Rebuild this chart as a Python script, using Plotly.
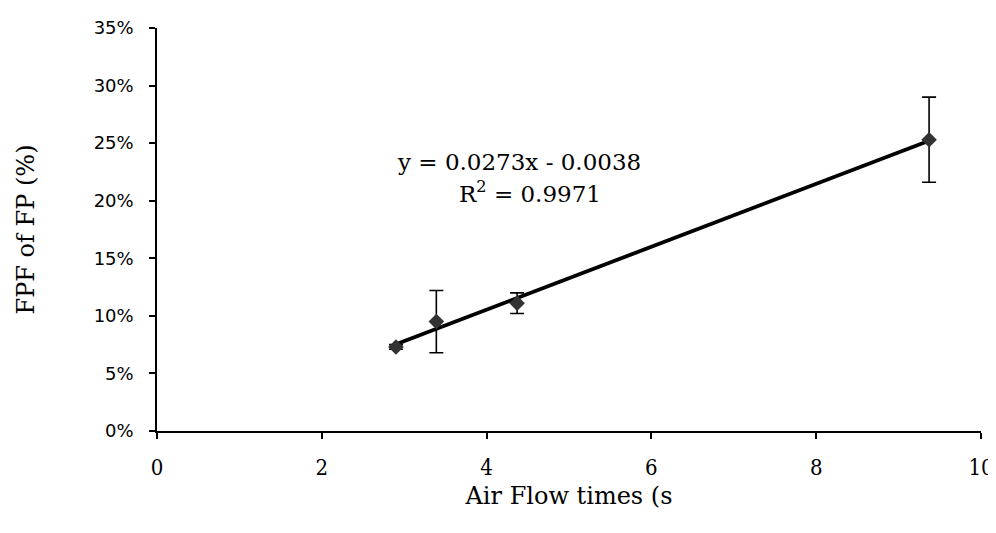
import plotly.graph_objects as go

# measured points (air flow time in s, fine particle fraction)
flow_time = [2.90, 3.39, 4.37, 9.37]
fpf = [0.073, 0.095, 0.111, 0.253]
fpf_err = [0.002, 0.027, 0.009, 0.037]

# linear trendline end points, as drawn
trend_x = [2.90, 9.37]
trend_y = [0.0754, 0.2520]

eq_text = "y = 0.0273x - 0.0038"
r2_text = "R<sup>2</sup> = 0.9971"

serif = "DejaVu Serif"

fig = go.Figure()
fig.add_trace(go.Scatter(
    x=trend_x, y=trend_y, mode="lines",
    line=dict(color="black", width=3.8), showlegend=False,
))
fig.add_trace(go.Scatter(
    x=flow_time, y=fpf, mode="markers",
    marker=dict(symbol="diamond", size=12, color="#333333"),
    error_y=dict(type="data", array=fpf_err, visible=True,
                 color="black", thickness=1.6, width=7),
    showlegend=False,
))

fig.add_annotation(x=4.39, y=0.2335, xref="x", yref="y", text=eq_text,
                   showarrow=False, xanchor="center", yanchor="middle",
                   font=dict(family=serif, size=23, color="black"))
fig.add_annotation(x=4.53, y=0.2075, xref="x", yref="y", text=r2_text,
                   showarrow=False, xanchor="center", yanchor="middle",
                   font=dict(family=serif, size=23, color="black"))

fig.update_xaxes(
    range=[0, 10], dtick=2, showgrid=False, zeroline=False,
    showline=True, linecolor="black", linewidth=1.5, automargin=False,
    ticks="outside", ticklen=6, tickcolor="black", tickwidth=1.5,
    ticklabelstandoff=10, ticklabeloverflow="allow",
    tickfont=dict(family="DejaVu Serif Condensed, DejaVu Serif", size=22,
                  color="black"),
    title=dict(text="Air Flow times (s", standoff=8,
               font=dict(family=serif, size=24, color="black")),
)
fig.update_yaxes(
    range=[0, 0.35], dtick=0.05, tickformat=".0%", showgrid=False,
    zeroline=False, showline=True, linecolor="black", linewidth=1.5,
    automargin=False,
    ticks="outside", ticklen=6, tickcolor="black", tickwidth=1.5,
    ticklabelstandoff=12,
    tickfont=dict(family="DejaVu Sans", size=18, color="black"),
    title=dict(text="FPF of FP (%)", standoff=52,
               font=dict(family=serif, size=24, color="black")),
)
# page body has an 8px margin, so the figure is sized to fit inside it
fig.update_layout(
    width=988, height=517,
    margin=dict(l=149, r=15, t=20, b=94),
    plot_bgcolor="white", paper_bgcolor="white",
)

fig.write_html("out.html")
